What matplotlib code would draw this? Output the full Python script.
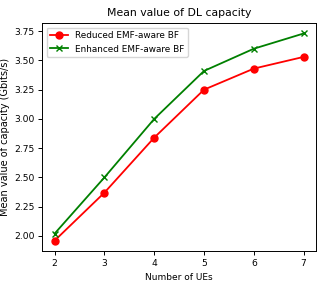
import matplotlib
matplotlib.use('Agg')
import matplotlib.pyplot as plt

num_ues = [2, 3, 4, 5, 6, 7]
reduced_bf = [1.96, 2.37, 2.84, 3.25, 3.43, 3.53]
enhanced_bf = [2.02, 2.50, 3.00, 3.41, 3.60, 3.73]

fig = plt.figure(figsize=(3.32, 2.91), dpi=100)
ax = fig.add_axes([0.127, 0.1375, 0.825, 0.783])

ax.plot(num_ues, reduced_bf, color='red', marker='o', markersize=5,
        linewidth=1.3, label='Reduced EMF-aware BF')
ax.plot(num_ues, enhanced_bf, color='green', marker='x', markersize=5,
        linewidth=1.3, label='Enhanced EMF-aware BF')

ax.set_title('Mean value of DL capacity', fontsize=7.8, pad=5)
ax.set_xlabel('Number of UEs', fontsize=6.5)
ax.set_ylabel('Mean value of capacity (Gbits/s)', fontsize=7)
ax.yaxis.set_label_coords(-0.118, 0.5)
ax.set_xticks(num_ues)
ax.tick_params(labelsize=6.6, length=3, width=0.7, pad=2.5)
for s in ax.spines.values():
    s.set_linewidth(0.7)
ax.legend(loc='upper left', fontsize=6.4, handlelength=2)

fig.savefig('out.png', dpi=100)
